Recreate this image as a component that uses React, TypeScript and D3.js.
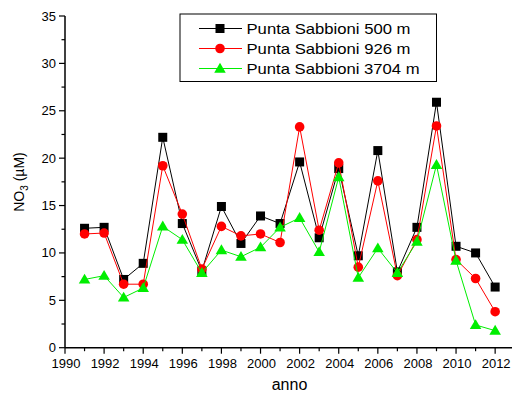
import React from "react";
import * as d3 from "d3";

const years = [1991,1992,1993,1994,1995,1996,1997,1998,1999,2000,2001,2002,2003,2004,2005,2006,2007,2008,2009,2010,2011,2012];
const s500 = [12.6,12.7,7.2,8.9,22.2,13.1,8.1,14.9,11.0,13.9,13.1,19.6,11.6,18.9,9.7,20.8,8.0,12.7,25.9,10.7,10.0,6.4];
const s926 = [12.0,12.1,6.7,6.7,19.2,14.1,8.3,12.8,11.8,12.0,11.1,23.3,12.4,19.5,8.5,17.6,7.6,11.4,23.4,9.3,7.3,3.8];
const s3704 = [7.2,7.6,5.3,6.3,12.8,11.4,7.9,10.3,9.6,10.6,12.7,13.7,10.1,18.0,7.4,10.5,7.9,11.2,19.3,9.2,2.4,1.8];
const xTicks = [1990,1992,1994,1996,1998,2000,2002,2004,2006,2008,2010,2012];
const yTicks = [0,5,10,15,20,25,30,35];
const seriesNames = ["Punta Sabbioni 500 m","Punta Sabbioni 926 m","Punta Sabbioni 3704 m"];
const seriesColors = ["#000000","#ff0000","#00ee00"];
const seriesShapes = ["square","circle","triangle"];

const W = 512, H = 396;
const x = d3.scaleLinear().domain([1990, 2013]).range([65, 514.7]);
const y = d3.scaleLinear().domain([0, 35]).range([347.7, 16]);
const font = "'Liberation Sans', Arial, sans-serif";

function Marker({ shape, cx, cy, color }: { shape: string; cx: number; cy: number; color: string }) {
  if (shape === "square") return <rect x={cx - 4.5} y={cy - 4.5} width={9} height={9} fill={color} />;
  if (shape === "circle") return <circle cx={cx} cy={cy} r={4.8} fill={color} />;
  const s = 5.5;
  return <path d={`M${cx},${cy - s * 1.05}L${cx + s * 1.05},${cy + s * 0.75}L${cx - s * 1.05},${cy + s * 0.75}Z`} fill={color} />;
}

export default function App() {
  const data = [s500, s926, s3704];
  const line = d3.line<[number, number]>().x(d => x(d[0])).y(d => y(d[1]));
  const minorX = d3.range(1991, 2014, 2);
  const minorY = d3.range(2.5, 35, 5);
  const legendWidths = [164, 164, 173];
  return (
    <svg width={W} height={H} style={{ position: "absolute", left: 0, top: 0, background: "#fff" }} fontFamily={font}>
      {/* axes */}
      <line x1={x(1990)} x2={512} y1={y(0)} y2={y(0)} stroke="#000" strokeWidth={1.5} />
      <line x1={x(1990)} x2={x(1990)} y1={y(0)} y2={y(35)} stroke="#000" strokeWidth={1.5} />
      {xTicks.map(t => (
        <g key={"xt" + t}>
          <line x1={x(t)} x2={x(t)} y1={y(0)} y2={y(0) + 6} stroke="#000" strokeWidth={1.2} />
          <text x={x(t) + 1} y={y(0) + 20} textAnchor="middle" fontSize={13} fill="#000">{t}</text>
        </g>
      ))}
      {minorX.map(t => (
        <line key={"xm" + t} x1={x(t)} x2={x(t)} y1={y(0)} y2={y(0) + 3.5} stroke="#000" strokeWidth={1.2} />
      ))}
      {yTicks.map(t => (
        <g key={"yt" + t}>
          <line x1={x(1990) - 6} x2={x(1990)} y1={y(t)} y2={y(t)} stroke="#000" strokeWidth={1.2} />
          <text x={x(1990) - 9} y={y(t) + 4.5} textAnchor="end" fontSize={13} fill="#000">{t}</text>
        </g>
      ))}
      {minorY.map(t => (
        <line key={"ym" + t} x1={x(1990) - 3.5} x2={x(1990)} y1={y(t)} y2={y(t)} stroke="#000" strokeWidth={1.2} />
      ))}
      <text x={289.5} y={390} textAnchor="middle" fontSize={16} fill="#000">anno</text>
      <text transform="translate(24,182) rotate(-90)" textAnchor="middle" fontSize={14} fill="#000">
        NO<tspan dy={4} fontSize={10}>3</tspan><tspan dy={-4}> (µM)</tspan>
      </text>
      {/* series */}
      {data.map((vals, i) => {
        const pts = years.map((yr, j) => [yr, vals[j]] as [number, number]);
        return (
          <g key={"s" + i}>
            <path d={line(pts) || ""} fill="none" stroke={seriesColors[i]} strokeWidth={1} />
            {pts.map((p, j) => (
              <Marker key={j} shape={seriesShapes[i]} cx={x(p[0])} cy={y(p[1])} color={seriesColors[i]} />
            ))}
          </g>
        );
      })}
      {/* legend */}
      <rect x={180} y={14} width={256.5} height={67.5} fill="#fff" stroke="#000" strokeWidth={1} />
      {seriesNames.map((n, i) => {
        const ly = 28.5 + i * 20;
        return (
          <g key={"l" + i}>
            <line x1={199} x2={242} y1={ly} y2={ly} stroke={seriesColors[i]} strokeWidth={1} />
            <Marker shape={seriesShapes[i]} cx={220} cy={ly} color={seriesColors[i]} />
            <text x={246.5} y={ly + 5.5} fontSize={15} fill="#000" textLength={legendWidths[i]} lengthAdjust="spacingAndGlyphs">{n}</text>
          </g>
        );
      })}
    </svg>
  );
}
